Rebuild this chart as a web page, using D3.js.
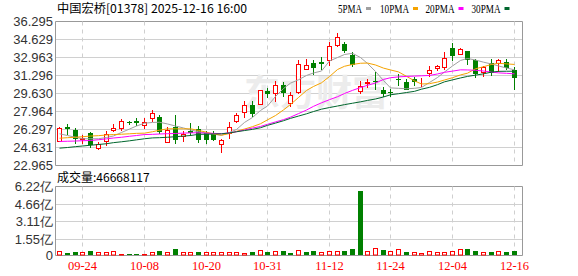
<!DOCTYPE html>
<html>
<head>
<meta charset="utf-8">
<script src="https://cdn.jsdelivr.net/npm/d3@7"></script>
<style>
body { margin: 0; background: #fff; }
svg { display: block; }
</style>
</head>
<body>
<div id="chart"></div>
<script>
/*global d3*/

var title = "中国宏桥[01378] 2025-12-16 16:00";
var maNames = ["5PMA", "10PMA", "20PMA", "30PMA"];

var dates = ["2025-09-19","2025-09-22","2025-09-23","2025-09-24","2025-09-25","2025-09-26","2025-09-29","2025-09-30",
  "2025-10-02","2025-10-03","2025-10-06","2025-10-08","2025-10-09","2025-10-10","2025-10-13","2025-10-14","2025-10-15",
  "2025-10-16","2025-10-17","2025-10-20","2025-10-21","2025-10-22","2025-10-23","2025-10-24","2025-10-27","2025-10-28",
  "2025-10-30","2025-10-31","2025-11-03","2025-11-04","2025-11-05","2025-11-06","2025-11-07","2025-11-10","2025-11-11",
  "2025-11-12","2025-11-13","2025-11-14","2025-11-17","2025-11-18","2025-11-19","2025-11-20","2025-11-21","2025-11-24",
  "2025-11-25","2025-11-26","2025-11-27","2025-11-28","2025-12-01","2025-12-02","2025-12-03","2025-12-04","2025-12-05",
  "2025-12-08","2025-12-09","2025-12-10","2025-12-11","2025-12-12","2025-12-15","2025-12-16"];

var opens = [25.20,26.50,26.21,25.45,25.93,24.54,25.19,26.27,26.46,26.99,27.04,26.76,27.38,27.50,25.10,26.51,25.65,26.20,
  26.35,25.93,25.88,24.97,25.96,27.07,27.90,28.52,28.68,29.82,29.66,30.46,28.73,29.75,31.92,32.44,32.50,32.75,34.14,34.17,
  33.24,29.82,30.60,30.83,30.00,29.79,30.97,30.68,30.93,30.79,31.51,31.99,32.06,33.86,33.31,33.61,32.69,31.60,32.47,32.44,
  32.53,31.82];
var highs = [26.50,26.80,26.48,25.80,26.07,25.10,26.16,26.82,27.29,27.13,27.38,27.32,28.06,27.60,26.51,27.60,26.16,26.92,
  26.62,26.20,26.20,25.44,26.97,27.81,28.98,28.98,30.00,30.12,30.83,30.74,29.75,32.69,32.84,32.69,32.99,34.38,35.21,34.38,
  33.45,30.77,30.93,31.60,30.19,30.09,31.48,30.93,31.14,31.05,32.13,32.31,33.45,34.35,33.82,33.61,32.84,32.13,32.78,32.78,
  32.78,32.06];
var lows = [25.15,25.80,24.97,25.00,24.63,24.40,24.77,26.05,26.14,26.68,26.58,26.30,26.97,25.90,25.03,24.96,25.10,25.65,
  25.05,24.97,25.19,24.10,25.44,26.88,27.38,27.44,28.61,29.23,28.82,29.35,28.36,29.60,31.92,31.30,31.82,32.22,33.92,33.36,
  32.06,29.60,30.14,29.95,29.26,29.26,30.28,29.91,30.33,30.25,31.14,31.71,31.79,32.62,33.21,32.31,31.08,31.14,31.23,31.60,
  31.76,29.91];
var closes = [26.45,26.30,25.42,25.50,24.82,24.91,25.90,26.42,27.04,26.95,26.92,26.95,27.81,26.05,26.27,25.28,25.84,25.93,
  25.28,25.33,25.34,25.34,26.51,27.66,28.58,27.69,29.91,29.60,30.46,29.66,29.51,32.38,32.31,32.01,32.38,34.07,34.84,33.55,
  32.29,30.28,30.65,30.74,29.58,29.75,30.88,30.00,30.72,30.83,31.76,32.22,32.93,33.06,33.77,32.69,31.45,32.06,31.51,32.69,
  32.01,31.05];
var volumes = [49000000,31000000,40000000,37000000,49000000,37000000,37000000,46000000,22000000,20000000,20000000,22000000,
  43000000,49000000,37000000,67000000,40000000,37000000,40000000,37000000,37000000,37000000,37000000,40000000,31000000,
  37000000,55000000,40000000,46000000,49000000,31000000,58000000,40000000,49000000,37000000,46000000,46000000,49000000,
  64000000,582000000,46000000,73000000,58000000,46000000,64000000,40000000,37000000,28000000,46000000,37000000,40000000,
  46000000,64000000,67000000,49000000,37000000,40000000,46000000,40000000,46668117];

var ma5 = [25.90,25.74,25.58,25.44,25.44,25.44,25.56,25.70,26.02,26.34,26.62,26.88,26.95,26.97,26.81,26.62,26.44,26.25,
  26.09,25.97,25.86,25.76,26.02,26.30,26.95,27.41,28.06,28.47,29.35,30.09,30.59,30.90,31.30,31.53,31.71,32.64,32.96,33.24,
  33.35,32.96,32.41,31.67,30.83,30.15,30.11,30.07,30.11,30.19,30.65,31.11,31.62,32.18,32.69,32.87,32.73,32.53,32.36,32.18,
  31.99,31.82];
var ma10 = [25.49,25.54,25.58,25.63,25.69,25.73,25.79,25.83,25.86,25.90,25.94,25.96,26.09,26.23,26.36,26.36,26.36,26.36,
  26.21,26.05,25.89,25.77,25.92,26.13,26.34,26.56,26.83,27.19,27.59,28.11,28.61,29.26,29.91,30.28,30.62,31.20,31.85,32.15,
  32.32,32.43,32.45,32.27,31.98,31.81,31.63,31.22,30.80,30.51,30.54,30.69,30.88,31.09,31.35,31.51,31.92,32.11,32.32,32.43,
  32.37,32.32];
var ma20 = [25.19,25.21,25.23,25.26,25.28,25.35,25.43,25.51,25.58,25.67,25.74,25.83,25.85,25.88,25.91,25.93,25.96,25.99,
  25.99,25.96,25.94,25.91,25.99,26.09,26.25,26.43,26.58,26.78,27.00,27.21,27.44,27.77,28.10,28.44,28.77,29.06,29.33,29.63,
  29.92,30.18,30.39,30.60,30.93,31.09,31.17,31.21,31.24,31.27,31.30,31.44,31.59,31.70,31.82,31.81,31.78,31.71,31.61,31.54,
  31.50,31.45];
var ma30 = [24.57,24.63,24.71,24.77,24.84,24.91,24.98,25.08,25.16,25.25,25.34,25.44,25.52,25.54,25.58,25.63,25.69,25.74,
  25.85,25.86,25.88,25.90,25.98,26.09,26.20,26.31,26.46,26.68,26.89,27.11,27.33,27.54,27.75,27.96,28.18,28.33,28.47,28.60,
  28.73,28.86,28.99,29.12,29.31,29.51,29.61,29.72,29.83,30.03,30.20,30.45,30.71,30.89,31.07,31.21,31.33,31.45,31.61,31.68,
  31.69,31.69];

var priceTicks = [22.965, 24.631, 26.297, 27.964, 29.630, 31.296, 32.963, 34.629, 36.295];
var volTicks = [0, 155000000, 311000000, 466000000, 622000000];
var dateTicks = ["2025-09-24", "2025-10-08", "2025-10-20", "2025-10-31", "2025-11-12", "2025-11-24", "2025-12-04", "2025-12-16"];

var width = 578, height = 276;
var left = 55.5, right = 522.5;
var red = "#ff0000", green = "#008000";
var maColors = ["#a0a0a0", "#f5a300", "#ff00ff", "#00662d"];

var svg = d3.select("#chart").append("svg")
  .attr("width", width)
  .attr("height", height)
  .style("font-family", "'Liberation Sans', Arial, sans-serif");

var x = d3.scaleBand().domain(dates).range([56, 518]);
var xc = function(d) { return Math.floor(x(d) + x.step() / 2) + 0.5; };

var y = d3.scaleLinear().domain([22.965, 36.295]).range([165.5, 21.5]);
var yv = d3.scaleLinear().domain([0, 622000000]).range([256.5, 186.5]);

// grid lines, price panel
svg.append("g").selectAll("line")
  .data(priceTicks)
  .enter().append("line")
  .attr("x1", left).attr("x2", right)
  .attr("y1", function(d) { return Math.round(y(d) - 0.5) + 0.5; })
  .attr("y2", function(d) { return Math.round(y(d) - 0.5) + 0.5; })
  .style("stroke", function(d, i) { return (i == 0 || i == priceTicks.length - 1) ? "#999" : "#d0d0d0"; });

// grid lines, volume panel
svg.append("g").selectAll("line")
  .data(volTicks)
  .enter().append("line")
  .attr("x1", left).attr("x2", right)
  .attr("y1", function(d, i) { return i == 0 ? 255.5 : Math.round(yv(d) - 0.5) + 0.5; })
  .attr("y2", function(d, i) { return i == 0 ? 255.5 : Math.round(yv(d) - 0.5) + 0.5; })
  .style("stroke", function(d, i) { return (i == 0 || i == volTicks.length - 1) ? "#999" : "#d0d0d0"; });

// dashed verticals at date ticks
[[21.5, 165.5], [186.5, 255.5]].forEach(function(r) {
  svg.append("g").selectAll("line")
    .data(dateTicks)
    .enter().append("line")
    .attr("x1", xc).attr("x2", xc)
    .attr("y1", r[0]).attr("y2", r[1])
    .style("stroke", "#cfcfcf")
    .style("stroke-dasharray", "4,4");

  svg.append("line")
    .attr("x1", left).attr("x2", left).attr("y1", r[0]).attr("y2", r[1]).style("stroke", "#999");
  svg.append("line")
    .attr("x1", right).attr("x2", right).attr("y1", r[0]).attr("y2", r[1]).style("stroke", "#999");
});

// watermark
svg.append("text")
  .attr("x", 244).attr("y", 106)
  .text("东方财富")
  .style("font-family", "'Noto Sans CJK SC'")
  .style("font-weight", "bold")
  .style("font-size", "36px")
  .style("fill", "#ececec");

// y axis labels
svg.append("g").selectAll("text")
  .data(priceTicks)
  .enter().append("text")
  .attr("x", 53)
  .attr("y", function(d) { return y(d) + 4.5; })
  .attr("text-anchor", "end")
  .style("font-size", "13px")
  .style("fill", "#333")
  .text(d3.format(".3f"));

svg.append("g").selectAll("text")
  .data(volTicks)
  .enter().append("text")
  .attr("x", 53)
  .attr("y", function(d, i) { return (i == 0 ? 255.5 : yv(d)) + 4.5; })
  .attr("text-anchor", "end")
  .style("font-size", "13px")
  .style("fill", "#333")
  .text(function(d) { return d == 0 ? "0" : d3.format(".2f")(d / 1e8) + "亿"; });

// candles
var idx = d3.range(dates.length);
var up = function(i) { return closes[i] >= opens[i]; };

var candles = svg.append("g").selectAll("g")
  .data(idx)
  .enter().append("g");

candles.append("line")
  .attr("x1", function(i) { return xc(dates[i]); })
  .attr("x2", function(i) { return xc(dates[i]); })
  .attr("y1", function(i) { return Math.round(y(highs[i])); })
  .attr("y2", function(i) { return Math.round(y(lows[i])); })
  .style("stroke", function(i) { return up(i) ? red : green; });

candles.append("rect")
  .attr("x", function(i) { return up(i) ? xc(dates[i]) - 2 : xc(dates[i]) - 2.5; })
  .attr("y", function(i) {
    var t = Math.round(y(Math.max(opens[i], closes[i])));
    return up(i) ? t + 0.5 : t;
  })
  .attr("width", function(i) { return up(i) ? 4 : 5; })
  .attr("height", function(i) {
    var h = Math.round(y(Math.min(opens[i], closes[i]))) - Math.round(y(Math.max(opens[i], closes[i])));
    return up(i) ? Math.max(h, 0) : Math.max(h, 1);
  })
  .style("fill", function(i) { return up(i) ? "#fff" : green; })
  .style("stroke", function(i) { return up(i) ? red : "none"; });

// moving averages
var mas = [ma5, ma10, ma20, ma30];
mas.forEach(function(m, k) {
  var line = d3.line()
    .x(function(v, i) { return xc(dates[i]); })
    .y(function(v) { return y(v); });
  svg.append("path")
    .datum(m)
    .attr("d", line)
    .style("fill", "none")
    .style("stroke", maColors[k])
    .style("stroke-width", 1);
});

// volume bars: colour from close vs previous close
var volUp = function(i) { return i == 0 ? up(0) : closes[i] >= closes[i - 1]; };
svg.append("g").selectAll("rect")
  .data(idx)
  .enter().append("rect")
  .attr("x", function(i) { return volUp(i) ? xc(dates[i]) - 2 : xc(dates[i]) - 2.5; })
  .attr("y", function(i) {
    var t = Math.min(Math.round(yv(volumes[i])), 254);
    return volUp(i) ? t + 0.5 : t;
  })
  .attr("width", function(i) { return volUp(i) ? 4 : 5; })
  .attr("height", function(i) {
    var t = Math.min(Math.round(yv(volumes[i])), 254);
    return volUp(i) ? 255 - t - 0.5 : 255 - t;
  })
  .style("fill", function(i) { return volUp(i) ? "#fff" : green; })
  .style("stroke", function(i) { return volUp(i) ? red : "none"; });

// x axis labels
svg.append("g").selectAll("text")
  .data(dateTicks)
  .enter().append("text")
  .attr("x", xc)
  .attr("y", 270)
  .attr("text-anchor", "middle")
  .style("font-family", "'Liberation Serif', serif")
  .style("font-size", "12.5px")
  .style("fill", red)
  .text(function(d) { return d.slice(5); });

// header
svg.append("text")
  .attr("x", 57).attr("y", 13)
  .attr("textLength", 190)
  .attr("lengthAdjust", "spacingAndGlyphs")
  .style("font-family", "'Noto Sans CJK SC'")
  .style("font-size", "12px")
  .style("fill", "#000")
  .text(title);

var legendX = [338, 380, 425.5, 471.5];
var legendW = [24, 29, 29, 29];
maNames.forEach(function(n, k) {
  svg.append("text")
    .attr("x", legendX[k]).attr("y", 12.5)
    .attr("textLength", legendW[k])
    .attr("lengthAdjust", "spacingAndGlyphs")
    .style("font-family", "'Liberation Serif', serif")
    .style("font-size", "12px")
    .style("fill", "#000")
    .text(n);
  svg.append("rect")
    .attr("x", legendX[k] + legendW[k] + 4).attr("y", 7)
    .attr("width", 5).attr("height", 3)
    .style("fill", maColors[k]);
});

svg.append("text")
  .attr("x", 57).attr("y", 182)
  .style("font-family", "'Noto Sans CJK SC'")
  .style("font-size", "12px")
  .style("fill", "#000")
  .text("成交量:" + volumes[volumes.length - 1]);
</script>
</body>
</html>
